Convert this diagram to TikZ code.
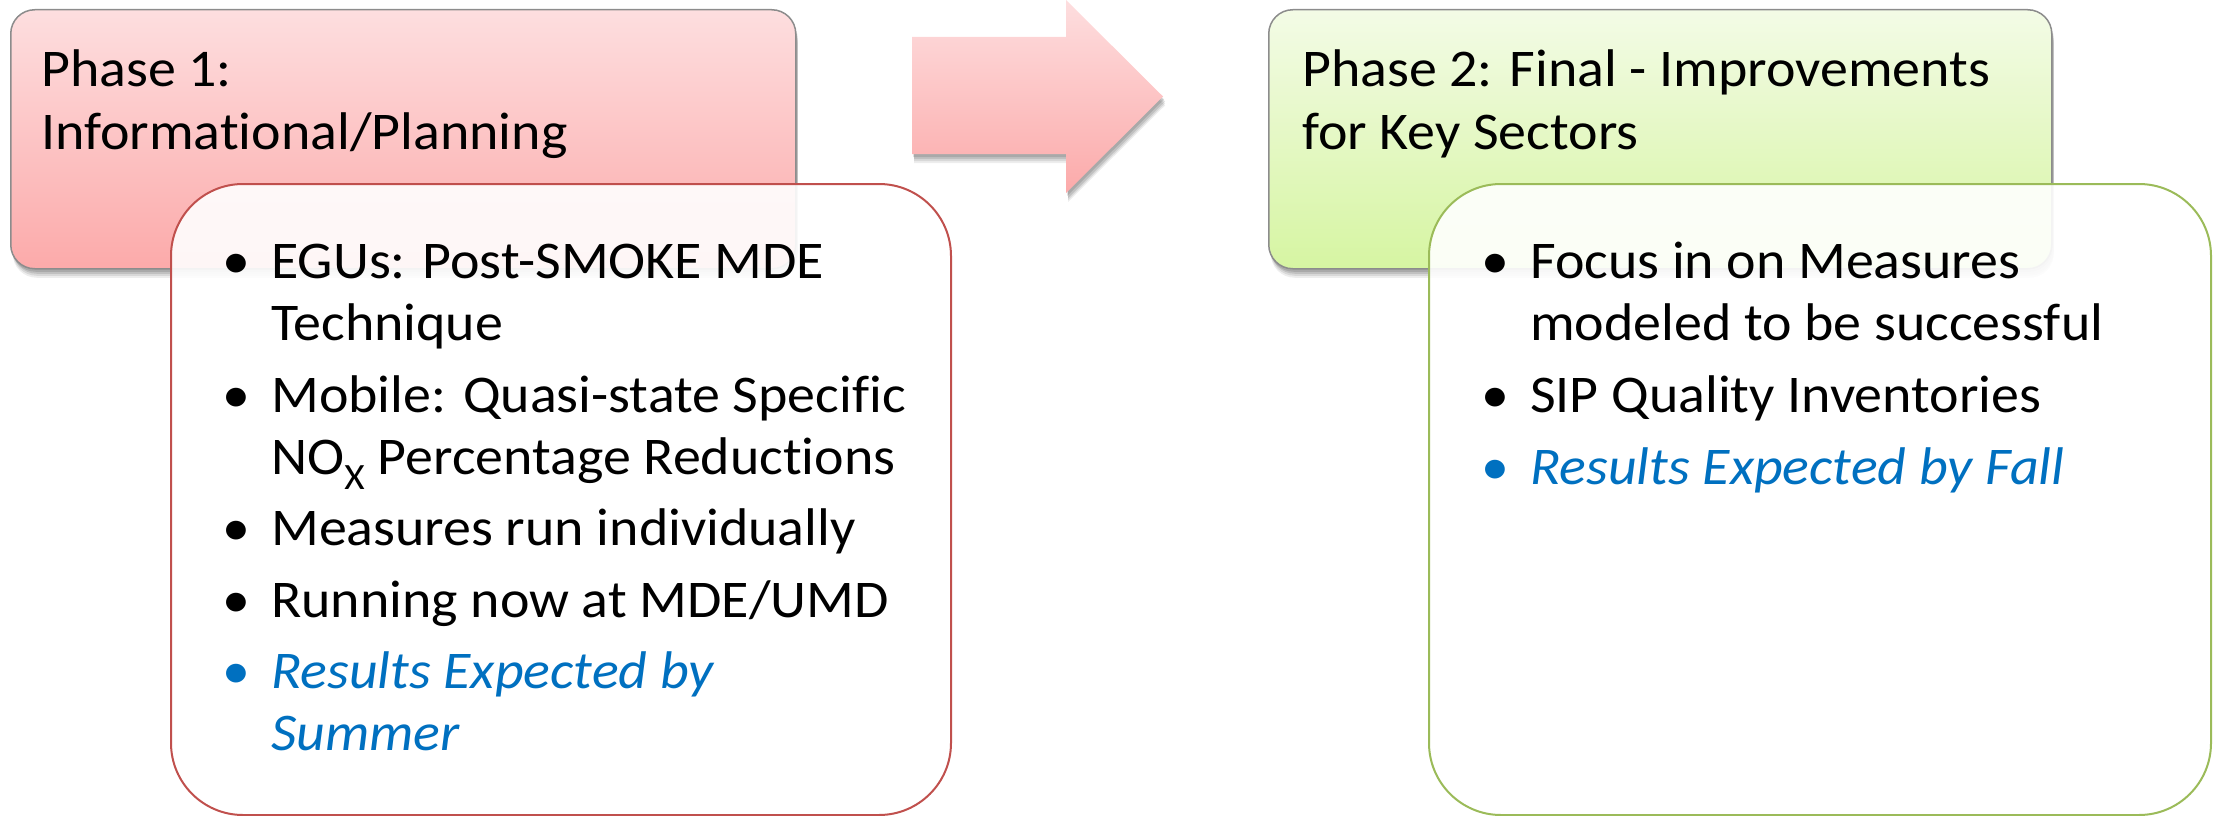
\documentclass[tikz,border=0pt]{standalone}
\usepackage{fontspec}
\setmainfont{Carlito}[FakeStretch=1.055, RawFeature={-liga,-calt,-clig}]
\usetikzlibrary{shadows}

\definecolor{pinkTop}{RGB}{253,222,223}
\definecolor{pinkBot}{RGB}{252,170,170}
\definecolor{greenTop}{RGB}{243,251,230}
\definecolor{greenBot}{RGB}{214,245,162}
\definecolor{redEdge}{RGB}{192,80,77}
\definecolor{greenEdge}{RGB}{155,187,89}
\definecolor{hdrEdge}{RGB}{140,140,140}
\definecolor{accent}{RGB}{0,112,192}

\tikzset{
  % layered shadows give a soft, blurred edge
  softshadow/.style={
    general shadow={fill=black, opacity=0.07, shadow xshift=2pt, shadow yshift=-9pt},
    general shadow={fill=black, opacity=0.09, shadow xshift=2pt, shadow yshift=-7pt},
    general shadow={fill=black, opacity=0.11, shadow xshift=2pt, shadow yshift=-5pt},
    general shadow={fill=black, opacity=0.12, shadow xshift=1pt, shadow yshift=-3pt}},
  header/.style={draw=hdrEdge, line width=1.5pt, rounded corners=24pt,
      anchor=north west, inner sep=0pt, softshadow},
  redhdr/.style={header, top color=pinkTop, bottom color=pinkBot},
  greenhdr/.style={header, top color=greenTop, bottom color=greenBot},
  panel/.style={line width=2pt, rounded corners=72pt, fill=white,
      fill opacity=0.9, anchor=north west, inner sep=0pt},
  txt/.style={anchor=base west, inner sep=0pt, font=\fontsize{53}{62}\selectfont},
  dot/.style={txt},
  hl/.style={txt, text=accent, font=\fontsize{53}{62}\selectfont\itshape},
}

\begin{document}
\begin{tikzpicture}[x=1pt, y=-1pt]
\useasboundingbox (0,0) rectangle (2217,816);

% ---------- phase 1 ----------
\node[redhdr, minimum width=785pt, minimum height=259pt] (h1) at (10,9) {};
\node[txt] (h1a) at (41,87) {Phase 1:};
\node[txt] (h1b) at (41,149) {Informational/Planning};

% transition arrow
\path[top color=pinkTop, bottom color=pinkBot, softshadow]
  (912,37) -- (1066,37) -- (1066,0) -- (1163,96.5) -- (1066,193)
  -- (1066,154) -- (912,154) -- cycle;

\node[panel, draw=redEdge, minimum width=780pt, minimum height=631pt] (p1) at (170,183) {};

\node[dot] (b1) at (222,278) {•};
\node[txt] (t1a) at (271,278) {EGUs: Post-SMOKE MDE};
\node[txt] (t1b) at (271,340) {Technique};
\node[dot] (b2) at (222,412) {•};
\node[txt] (t2a) at (271,412) {Mobile: Quasi-state Specific};
\node[txt] (t2b) at (271,474) {NO\textsubscript{X} Percentage Reductions};
\node[dot] (b3) at (222,545) {•};
\node[txt] (t3) at (271,545) {Measures run individually};
\node[dot] (b4) at (222,617) {•};
\node[txt] (t4) at (271,617) {Running now at MDE/UMD};
\node[dot, text=accent] (b5) at (222,688) {•};
\node[hl] (t5a) at (271,688) {Results Expected by};
\node[hl] (t5b) at (271,750) {Summer};

% ---------- phase 2 ----------
\node[greenhdr, minimum width=783pt, minimum height=259pt] (h2) at (1268,9) {};
\node[txt] (h2a) at (1302,87) {Phase 2: Final - Improvements};
\node[txt] (h2b) at (1302,149) {for Key Sectors};

\node[panel, draw=greenEdge, minimum width=782pt, minimum height=631pt] (p2) at (1428,183) {};

\node[dot] (c1) at (1481,278) {•};
\node[txt] (u1a) at (1530,278) {Focus in on Measures};
\node[txt] (u1b) at (1530,340) {modeled to be successful};
\node[dot] (c2) at (1481,412) {•};
\node[txt] (u2) at (1530,412) {SIP Quality Inventories};
\node[dot, text=accent] (c3) at (1481,484) {•};
\node[hl] (u3) at (1530,484) {Results Expected by Fall};
\end{tikzpicture}
\end{document}
